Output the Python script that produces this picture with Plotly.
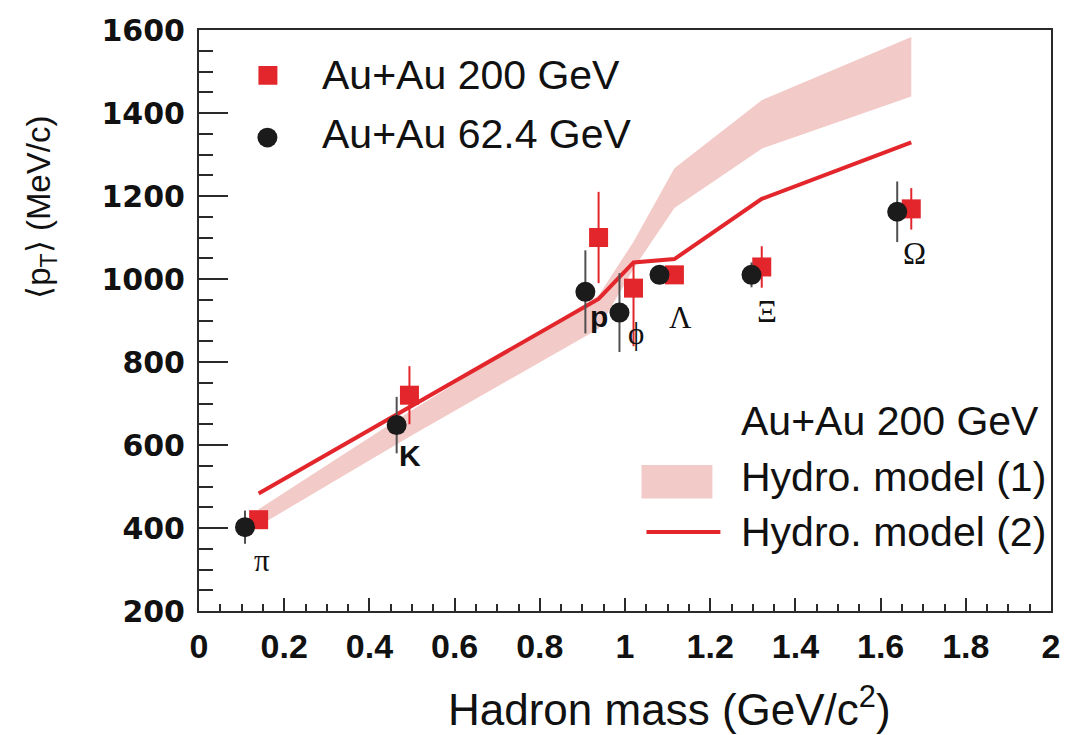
import plotly.graph_objects as go

# ---------------- data ----------------
hadrons = ["π", "K", "p", "ϕ", "Λ", "Ξ", "Ω"]

# Au+Au 200 GeV (red squares)
mass_200 = [0.140, 0.494, 0.938, 1.020, 1.116, 1.321, 1.672]
pt_200 = [420, 720, 1100, 978, 1010, 1029, 1169]
err_200_up = [15, 70, 110, 60, 10, 50, 50]
err_200_dn = [15, 70, 110, 140, 10, 50, 50]

# Au+Au 62.4 GeV (black circles)
mass_62 = [0.108, 0.464, 0.907, 0.987, 1.081, 1.297, 1.639]
pt_62 = [402, 648, 969, 919, 1010, 1010, 1162]
err_62 = [40, 68, 100, 95, 10, 30, 73]

# Hydro models (Au+Au 200 GeV)
model_mass = [0.140, 0.494, 0.938, 1.020, 1.116, 1.321, 1.672]
hydro1_low = [405, 620, 880, 1025, 1171, 1314, 1440]
hydro1_high = [445, 680, 960, 1090, 1267, 1431, 1583]
hydro2 = [483, 691, 952, 1040, 1048, 1193, 1329]

x_ticks = [0, 0.2, 0.4, 0.6, 0.8, 1, 1.2, 1.4, 1.6, 1.8, 2]
y_ticks = [200, 400, 600, 800, 1000, 1200, 1400, 1600]

# ---------------- styles ----------------
RED = "#e3262b"
PINK = "#f2cac8"
BLACK = "#1b1b1b"
GREY = "#505050"
AXIS = "#2a2a2a"
SANS = "Liberation Sans, Arial, sans-serif"
SERIF = "Liberation Serif, Times New Roman, serif"

W, H = 1072, 735
ML, MR, MT, MB = 199, 20, 22, 124

# label placement for particle names (data coords)
label_x = [0.148, 0.495, 0.938, 1.025, 1.130, 1.334, 1.679]
label_y = [322, 574, 910, 869, 907, 921, 1062]
label_serif = [True, False, False, True, True, True, True]

fig = go.Figure()

# band: hydro model (1)
fig.add_trace(go.Scatter(x=model_mass, y=hydro1_low, mode="lines",
                         line=dict(width=0, color=PINK), hoverinfo="skip",
                         showlegend=False))
fig.add_trace(go.Scatter(x=model_mass, y=hydro1_high, mode="lines",
                         line=dict(width=0, color=PINK), fill="tonexty",
                         fillcolor=PINK, name="Hydro. model (1)",
                         showlegend=False))
# line: hydro model (2)
fig.add_trace(go.Scatter(x=model_mass, y=hydro2, mode="lines",
                         line=dict(width=4, color=RED),
                         name="Hydro. model (2)", showlegend=False))
# 200 GeV squares
fig.add_trace(go.Scatter(x=mass_200, y=pt_200, mode="markers",
                         marker=dict(symbol="square", size=19, color=RED),
                         error_y=dict(type="data", array=err_200_up,
                                      arrayminus=err_200_dn, symmetric=False,
                                      color=RED, thickness=2, width=0),
                         name="Au+Au 200 GeV", text=hadrons, showlegend=False))
# 62.4 GeV circles
fig.add_trace(go.Scatter(x=mass_62, y=pt_62, mode="markers",
                         marker=dict(symbol="circle", size=20, color=BLACK),
                         error_y=dict(type="data", array=err_62,
                                      color=GREY, thickness=2, width=0),
                         name="Au+Au 62.4 GeV", text=hadrons, showlegend=False))

# particle labels
for name, lx, ly, serif in zip(hadrons, label_x, label_y, label_serif):
    fig.add_annotation(x=lx, y=ly, xref="x", yref="y", text=name,
                       showarrow=False, xanchor="center", yanchor="middle",
                       font=dict(family=SERIF if serif else SANS,
                                 size=31 if serif else 30,
                                 weight="normal" if serif else "bold",
                                 color="#111"))

pw = W - ML - MR
ph = H - MT - MB


def px(xp):
    return (xp - ML) / pw


def py(yp):
    return (H - MB - yp) / ph


# ---- legend 1 (data) ----
fig.add_shape(type="rect", xref="paper", yref="paper",
              x0=px(258.5), x1=px(277.5), y0=py(77.5), y1=py(58.5),
              fillcolor=RED, line=dict(width=0))
fig.add_shape(type="circle", xref="paper", yref="paper",
              x0=px(257.5), x1=px(277.5), y0=py(141), y1=py(121),
              fillcolor=BLACK, line=dict(width=0))
fig.add_annotation(x=px(320), y=py(68), xref="paper", yref="paper",
                   text="Au+Au 200 GeV", showarrow=False, xanchor="left",
                   yanchor="middle", font=dict(family=SANS, size=41, color="#111"))
fig.add_annotation(x=px(320), y=py(127), xref="paper", yref="paper",
                   text="Au+Au 62.4 GeV", showarrow=False, xanchor="left",
                   yanchor="middle", font=dict(family=SANS, size=41, color="#111"))

# ---- legend 2 (models) ----
fig.add_annotation(x=px(740), y=py(418), xref="paper", yref="paper",
                   text="Au+Au 200 GeV", showarrow=False, xanchor="left",
                   yanchor="middle", font=dict(family=SANS, size=41, color="#111"))
fig.add_shape(type="rect", xref="paper", yref="paper",
              x0=px(642), x1=px(713), y0=py(497), y1=py(463),
              fillcolor=PINK, line=dict(width=0))
fig.add_annotation(x=px(740), y=py(475), xref="paper", yref="paper",
                   text="Hydro. model (1)", showarrow=False, xanchor="left",
                   yanchor="middle", font=dict(family=SANS, size=41, color="#111"))
fig.add_shape(type="line", xref="paper", yref="paper",
              x0=px(647), x1=px(721), y0=py(531), y1=py(531),
              line=dict(color=RED, width=4))
fig.add_annotation(x=px(740), y=py(531), xref="paper", yref="paper",
                   text="Hydro. model (2)", showarrow=False, xanchor="left",
                   yanchor="middle", font=dict(family=SANS, size=41, color="#111"))

# ---- axis titles ----
fig.add_annotation(x=px(670), y=py(708), xref="paper", yref="paper",
                   text="Hadron mass (GeV/c<sup>2</sup>)", showarrow=False,
                   xanchor="center", yanchor="middle",
                   font=dict(family=SANS, size=44, color="#111"))
fig.add_annotation(x=px(40), y=py(202), xref="paper", yref="paper",
                   text="⟨p<sub>T</sub>⟩ (MeV/c)", showarrow=False, textangle=-90,
                   xanchor="center", yanchor="middle",
                   font=dict(family=SANS, size=33, color="#111"))

fig.update_layout(
    width=W, height=H,
    margin=dict(l=ML, r=MR, t=MT, b=MB),
    paper_bgcolor="white", plot_bgcolor="white",
    showlegend=False,
    xaxis=dict(range=[0, 2], tickvals=x_ticks,
               ticktext=[f"{v:g}" for v in x_ticks],
               ticks="inside", ticklen=13, tickwidth=2, tickcolor=AXIS,
               minor=dict(dtick=0.05, ticks="inside", ticklen=7, tickwidth=1.5,
                          tickcolor=AXIS, showgrid=False),
               showline=True, linewidth=2, linecolor=AXIS, mirror=True,
               showgrid=False, zeroline=False, ticklabelstandoff=4,
               tickfont=dict(family=SANS, size=34, weight="bold", color="#111")),
    yaxis=dict(range=[200, 1600], tickvals=y_ticks,
               ticks="inside", ticklen=29, tickwidth=2, tickcolor=AXIS,
               minor=dict(dtick=50, ticks="inside", ticklen=14, tickwidth=1.5,
                          tickcolor=AXIS, showgrid=False),
               showline=True, linewidth=2, linecolor=AXIS, mirror=True,
               showgrid=False, zeroline=False, ticklabelstandoff=6,
               tickfont=dict(family="DejaVu Sans", size=30, weight="bold",
                             color="#111")),
)

fig.write_html("out.html")
